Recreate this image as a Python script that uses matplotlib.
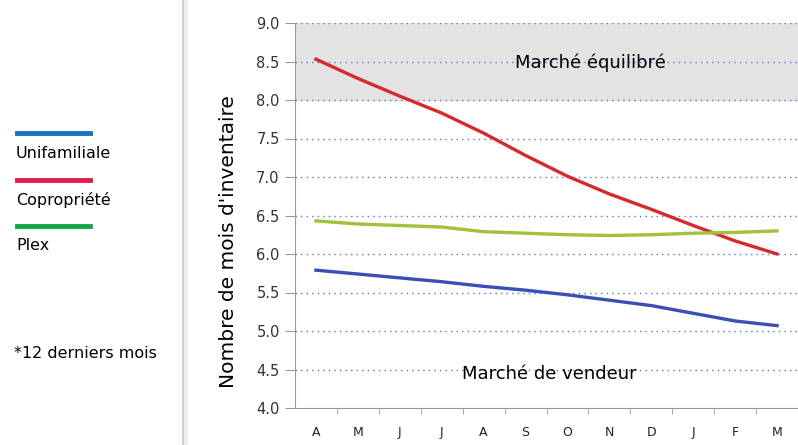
import numpy as np
import matplotlib.pyplot as plt
from matplotlib.lines import Line2D

mois = ['A', 'M', 'J', 'J', 'A', 'S', 'O', 'N', 'D', 'J', 'F', 'M']
unifamiliale = [5.79, 5.74, 5.69, 5.64, 5.58, 5.53, 5.47, 5.40, 5.33, 5.23, 5.13, 5.07]
copropriete = [8.53, 8.28, 8.05, 7.83, 7.57, 7.28, 7.01, 6.78, 6.58, 6.37, 6.17, 6.00]
plex = [6.43, 6.39, 6.37, 6.35, 6.29, 6.27, 6.25, 6.24, 6.25, 6.27, 6.28, 6.30]
yticks = [4.0, 4.5, 5.0, 5.5, 6.0, 6.5, 7.0, 7.5, 8.0, 8.5, 9.0]

fig = plt.figure(figsize=(7.98, 4.45), dpi=100)
ax = fig.add_axes([295 / 798, 37 / 445, 503 / 798, 385 / 445])

x = np.arange(len(mois))
ax.axhspan(8.0, 9.0, color='#e3e3e3', zorder=0)
for yv in yticks[1:]:
    ax.axhline(yv, color='#5b6ee8', lw=1, ls=(0, (1, 3)), zorder=1)

ax.plot(x, copropriete, color='#d42a2a', lw=2.4, zorder=3)
ax.plot(x, plex, color='#9fc23a', lw=2.4, zorder=3)
ax.plot(x, unifamiliale, color='#3a4fb5', lw=2.4, zorder=3)

ax.set_xlim(-0.5, 11.5)
ax.set_ylim(4.0, 9.0)
ax.set_yticks(yticks)
ax.set_yticklabels(['%.1f' % v for v in yticks], fontsize=10.5, color='#333333')
ax.set_xticks(x)
ax.set_xticklabels(mois, fontsize=9, color='#222222')
ax.set_xticks(np.arange(0.5, 11.5, 1), minor=True)
ax.tick_params(axis='x', which='major', length=0, pad=13)
ax.tick_params(axis='x', which='minor', length=4, color='#999999', direction='out')
ax.tick_params(axis='y', length=7, color='#999999', pad=4)

for s in ['top', 'right']:
    ax.spines[s].set_visible(False)
ax.spines['left'].set_color('#999999')
ax.spines['bottom'].set_color('#999999')
ax.spines['bottom'].set_linestyle((0, (3, 1)))

ax.set_ylabel("Nombre de mois d'inventaire", fontsize=14.5)
ax.yaxis.set_label_coords(-57 / 503, (408 - 242) / 385)
ax.text(6.55, 8.48, 'Marché équilibré', fontsize=13, ha='center', va='center')
ax.text(5.56, 4.44, 'Marché de vendeur', fontsize=13, ha='center', va='center')

# panneau gauche (légende)
fig.add_artist(Line2D([183 / 798, 183 / 798], [0, 1], color='#cccccc', lw=2))
fig.add_artist(Line2D([186 / 798, 186 / 798], [0, 1], color='#eeeeee', lw=3))
noms = ['Unifamiliale', 'Copropriété', 'Plex']
couleurs = ['#1a6fc0', '#e8194a', '#12a84a']
for i, (n, c) in enumerate(zip(noms, couleurs)):
    y_line = 1 - (133 + i * 46.5) / 445
    fig.add_artist(Line2D([17 / 798, 90 / 798], [y_line, y_line], color=c, lw=3.5))
    fig.text(16 / 798, 1 - (153 + i * 46.5) / 445, n, fontsize=11.5, va='center')
fig.text(14 / 798, 1 - 353 / 445, '*12 derniers mois', fontsize=11.5, va='center')

fig.savefig('out.png', dpi=100)
